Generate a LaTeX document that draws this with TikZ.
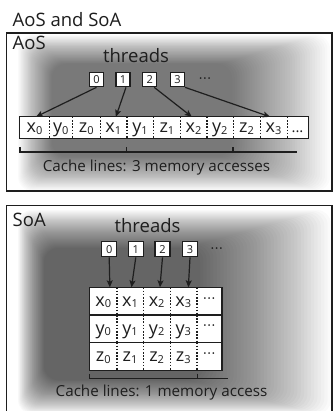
\documentclass[tikz,border=0pt]{standalone}
\usepackage{fontspec}
\setmainfont{Open Sans}
\usetikzlibrary{arrows.meta,calc}
\definecolor{ink}{HTML}{1E1E1E}
\newcommand\sbx[1]{\raisebox{-1.2pt}{\fontsize{11}{11}\selectfont #1}}
\newcommand\mdots{\raisebox{3.5pt}{\fontsize{14}{14}\selectfont\textperiodcentered\kern0.5pt\textperiodcentered\kern0.5pt\textperiodcentered}}
\begin{document}
\begin{tikzpicture}[x=1pt,y=-1pt,
  frame/.style={draw=ink,line width=1.3pt},
  tbox/.style={draw=ink,line width=1.3pt,fill=white,minimum width=14pt,minimum height=14pt,inner sep=0pt,font=\fontsize{11}{11}\selectfont,text=ink},
  cell/.style={fill=white,inner sep=0pt,minimum height=21pt,text height=11pt,text depth=0pt,font=\fontsize{18}{20}\selectfont,text=ink},
  scell/.style={cell,minimum height=27.5pt},
  divider/.style={draw=ink,line width=1.2pt,dash pattern=on 1.6pt off 1.6pt},
  arr/.style={draw=ink,line width=1.2pt,-{Stealth[length=7pt,width=6pt,inset=1.5pt]}},
  lbl/.style={inner sep=0pt,text=ink,font=\fontsize{18.5}{20}\selectfont},
  captxt/.style={inner sep=0pt,text=ink,font=\fontsize{15.2}{17}\selectfont},
  tickln/.style={draw=ink,line width=1.3pt}
]
\useasboundingbox (0,0) rectangle (334,411);
\fill[white] (0,0) rectangle (334,411);

% ---------- AoS panel ----------
\foreach \i in {0,...,39} {
  \pgfmathsetmacro\t{\i/39}
  \fill[black,opacity=0.0165,rounded corners=14pt]
    ({18+\t*(52-18)},{35+\t*(64-35)}) rectangle ({330+\t*(232-330)},{191+\t*(156-191)});
}
\draw[frame] (6.5,33) rectangle (332,191);
\node[lbl,anchor=base west] (title) at (12.5,27) {AoS and SoA};
\node[lbl,anchor=base west] (aoslbl) at (12.5,50) {AoS};
\node[lbl,anchor=base] (thrA) at (136,63) {threads};

\node[tbox] (t0) at (96.5,79.7) {0};
\node[tbox] (t1) at (123,79.7) {1};
\node[tbox] (t2) at (149.7,79.7) {2};
\node[tbox] (t3) at (177.4,79.7) {3};
\node[inner sep=0pt,text=ink,font=\fontsize{14}{14}\selectfont] (tdA) at (205,81) {\textperiodcentered\kern0.5pt\textperiodcentered\kern0.5pt\textperiodcentered};

\node[cell,minimum width=29pt]   (a0) at (34.5,127.5)  {x\sbx{0}};
\node[cell,minimum width=23.5pt] (a1) at (60.75,127.5) {y\sbx{0}};
\node[cell,minimum width=27.5pt] (a2) at (86.25,127.5) {z\sbx{0}};
\node[cell,minimum width=26.7pt] (a3) at (113.35,127.5) {x\sbx{1}};
\node[cell,minimum width=26.6pt] (a4) at (140,127.5)   {y\sbx{1}};
\node[cell,minimum width=27.2pt] (a5) at (166.9,127.5) {z\sbx{1}};
\node[cell,minimum width=26.2pt] (a6) at (193.6,127.5) {x\sbx{2}};
\node[cell,minimum width=26.3pt] (a7) at (219.85,127.5) {y\sbx{2}};
\node[cell,minimum width=27pt]   (a8) at (246.5,127.5) {z\sbx{2}};
\node[cell,minimum width=27pt]   (a9) at (273.5,127.5) {x\sbx{3}};
\node[cell,minimum width=21pt]   (a10) at (297.5,127.5) {\fontsize{15}{15}\selectfont ...};
\draw[frame] (a0.north west) rectangle (a10.south east);
\foreach \c in {a0,a1,a2,a3,a4,a5,a6,a7,a8,a9} \draw[divider] (\c.north east) -- (\c.south east);

\draw[arr] (t0.south) -- ($(a0.north)+(1.5,0)$);
\draw[arr] ($(t1.south)+(3,0)$) -- ($(a3.north)+(2.5,0)$);
\draw[arr] ($(t2.south)+(4.5,0)$) -- ($(a6.north)+(-1.8,0)$);
\draw[arr] (t3.south east) -- ($(a9.north)+(-3.5,0)$);

\draw[tickln] (20,152) -- (297,152);
\draw[tickln] (20,147.5) -- (20,152.6);
\draw[tickln] (126.7,147.5) -- (126.7,152.6);
\draw[tickln] (233,147.5) -- (233,152.6);
\node[captxt,anchor=base] (capA) at (156.5,172) {Cache lines: 3 memory accesses};

% ---------- SoA panel ----------
\foreach \i in {0,...,39} {
  \pgfmathsetmacro\t{\i/39}
  \fill[black,opacity=0.0185,rounded corners=14pt]
    ({18+\t*(44-18)},{210+\t*(248-210)}) rectangle ({331+\t*(200-331)},{414+\t*(380-414)});
}
\draw[frame] (6.5,205.5) rectangle (332,416);
\node[lbl,anchor=base west] (soalbl) at (12.5,226) {SoA};
\node[lbl,anchor=base] (thrB) at (147.5,232) {threads};

\node[tbox,minimum width=15pt,minimum height=15pt] (s0) at (109.2,249.2) {0};
\node[tbox,minimum width=15pt,minimum height=15pt] (s1) at (135.8,249.2) {1};
\node[tbox,minimum width=15pt,minimum height=15pt] (s2) at (162.5,249.2) {2};
\node[tbox,minimum width=15pt,minimum height=15pt] (s3) at (190,249.2) {3};
\node[inner sep=0pt,text=ink,font=\fontsize{14}{14}\selectfont] (tdB) at (216.7,251) {\textperiodcentered\kern0.5pt\textperiodcentered\kern0.5pt\textperiodcentered};

\foreach \r/\l/\yy in {0/x/301.25,1/y/328.85,2/z/356.35} {
  \node[scell,minimum width=26.7pt] (b\r0) at (103.35,\yy) {\l\sbx{0}};
  \node[scell,minimum width=26.6pt] (b\r1) at (130,\yy)    {\l\sbx{1}};
  \node[scell,minimum width=26.7pt] (b\r2) at (156.65,\yy) {\l\sbx{2}};
  \node[scell,minimum width=26.7pt] (b\r3) at (183.35,\yy) {\l\sbx{3}};
  \node[scell,minimum width=25pt]   (b\r4) at (209.2,\yy)  {\mdots};
  \draw[frame] (b\r0.north west) rectangle (b\r4.south east);
  \foreach \c in {0,1,2,3} \draw[divider] (b\r\c.north east) -- (b\r\c.south east);
}

\draw[arr] (s0.south) -- ($(b00.north)+(6.5,0)$);
\draw[arr] (s1.south) -- ($(b01.north)+(1.5,0)$);
\draw[arr] (s2.south) -- ($(b02.north)+(3.3,0)$);
\draw[arr] (s3.south) -- ($(b03.north)+(5,0)$);

\draw[tickln] (89.5,378.3) -- (228.3,378.3);
\draw[tickln] (89.5,373.5) -- (89.5,379);
\draw[tickln] (197.5,373.5) -- (197.5,379);
\node[captxt,anchor=base] (capB) at (161.5,396.7) {Cache lines: 1 memory access};
\end{tikzpicture}
\end{document}
